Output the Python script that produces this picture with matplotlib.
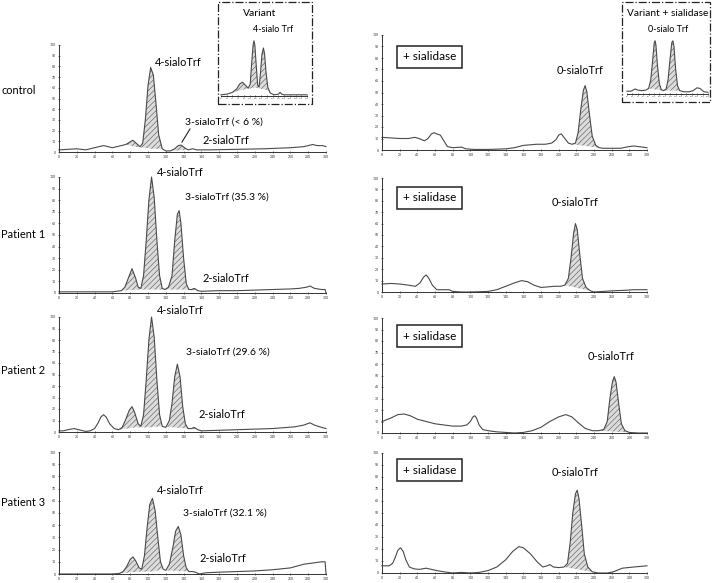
import matplotlib
matplotlib.use("Agg")
import matplotlib.pyplot as plt
from matplotlib.patches import Rectangle
from matplotlib.lines import Line2D

plt.rcParams["font.family"] = ["Lato", "DejaVu Sans"]
plt.rcParams["hatch.linewidth"] = 0.5

W, H = 714, 583

# chromatogram traces: (retention, relative signal)
ctrl_left = [(0, 2), (10, 2.5), (20, 3), (30, 2), (40, 4), (50, 6), (60, 4), (65, 5), (70, 6), (75, 7),
             (79, 9), (83, 11), (87, 8), (91, 5), (94, 8), (97, 30), (100, 62), (103, 79), (106, 72),
             (109, 45), (112, 16), (116, 3), (120, 1), (125, 1), (130, 3), (134, 6), (137, 6.5), (141, 4),
             (145, 2), (150, 3), (155, 2), (170, 2), (200, 2.5), (230, 3), (260, 4), (275, 5), (280, 6),
             (285, 7), (290, 6), (296, 6), (300, 5)]
p1_left = [(0, 1), (20, 1), (40, 1), (60, 1), (70, 2), (74, 5), (78, 13), (82, 21), (86, 13), (89, 5),
           (92, 4), (95, 15), (98, 45), (101, 80), (104, 100), (107, 82), (110, 45), (113, 15), (116, 4),
           (119, 3), (123, 5), (127, 15), (130, 45), (133, 68), (135, 71), (137, 60), (140, 30), (143, 8),
           (146, 3), (149, 3), (152, 4), (156, 2), (160, 1.5), (180, 2), (200, 2), (220, 2.5), (240, 3),
           (260, 3.5), (270, 4), (278, 5), (282, 6), (287, 4), (295, 3), (299, 3), (300, 0)]
p2_left = [(0, 1), (5, 1), (10, 2), (17, 3), (22, 2), (30, 0.5), (35, 1), (40, 3), (44, 8), (47, 13),
           (50, 15), (53, 13), (57, 7), (62, 3), (67, 2), (71, 4), (75, 11), (79, 19), (82, 22), (85, 17),
           (89, 7), (92, 5), (95, 15), (98, 45), (101, 80), (104, 100), (107, 82), (110, 45), (113, 15),
           (116, 5), (120, 4), (124, 10), (127, 25), (130, 48), (133, 59), (136, 48), (139, 22), (142, 7),
           (145, 3), (149, 3), (152, 4), (156, 2), (160, 1), (180, 1.5), (200, 2), (240, 3), (265, 4.5),
           (275, 6), (282, 8), (287, 6), (295, 4), (300, 3)]
p3_left = [(0, 0), (60, 0), (68, 0.5), (72, 2), (76, 6), (80, 12), (83, 14), (86, 11), (90, 5), (93, 4),
           (96, 15), (99, 38), (102, 57), (105, 62), (108, 52), (111, 30), (114, 10), (117, 4), (120, 3),
           (124, 8), (128, 22), (131, 35), (134, 39), (137, 32), (140, 15), (143, 5), (146, 2), (150, 2),
           (153, 1.5), (158, 0), (165, 1), (180, 1.5), (200, 2), (220, 2.5), (240, 3.5), (260, 5),
           (275, 8), (285, 9), (295, 10), (299, 10), (300, 0)]

ctrl_right = [(0, 11), (10, 10.5), (20, 10), (30, 10), (37, 11), (42, 10), (48, 8), (52, 10), (56, 14),
              (59, 15), (62, 14), (66, 13), (70, 8), (74, 3), (80, 2), (90, 2.5), (95, 1), (105, 0.5),
              (120, 0.5), (140, 1), (150, 2), (160, 4), (175, 5), (185, 5), (192, 6), (197, 9), (200, 13),
              (203, 14), (207, 10), (211, 6), (215, 5), (219, 6), (222, 15), (225, 35), (228, 52),
              (230, 56), (232, 50), (235, 30), (238, 12), (242, 4), (246, 2), (250, 1.5), (260, 1.5),
              (270, 1.5), (280, 3), (285, 3.5), (290, 3), (300, 2)]
p1_right = [(0, 7), (10, 7.5), (20, 7), (30, 6), (38, 5), (43, 8), (47, 13), (50, 15), (53, 12), (57, 6),
            (62, 2), (70, 2), (76, 2), (80, 0.5), (90, 0), (100, 0), (120, 0.5), (130, 2), (140, 5),
            (150, 8), (158, 10), (165, 9), (172, 6), (180, 4), (188, 4.5), (195, 5), (202, 5), (207, 6),
            (211, 12), (214, 30), (217, 52), (219, 60), (221, 55), (224, 32), (227, 12), (231, 4),
            (236, 1), (240, 0), (250, 0.5), (260, 1), (275, 1.5), (285, 2), (300, 2)]
p2_right = [(0, 10), (10, 13), (18, 16), (25, 16.5), (32, 15), (40, 12), (50, 10), (60, 8), (70, 7),
            (80, 6), (90, 6), (96, 7), (100, 10), (103, 14), (105, 15), (107, 13), (110, 7), (114, 3),
            (120, 2), (130, 1), (140, 0.5), (150, 0), (160, 0.5), (170, 2), (180, 5), (190, 10), (200, 14),
            (208, 16), (215, 14), (222, 9), (230, 4), (238, 2), (245, 2), (251, 3), (255, 10), (258, 30),
            (261, 45), (263, 49), (265, 44), (268, 25), (271, 8), (275, 2), (280, 0.5), (290, 0), (300, 0)]
p3_right = [(0, 6), (8, 6), (12, 8), (15, 13), (18, 19), (21, 21), (24, 18), (27, 11), (31, 5), (36, 3.5),
            (42, 3), (50, 4), (56, 3), (62, 2), (70, 1), (80, 0), (90, 0.5), (100, 0), (110, 0.5), (120, 2),
            (130, 5), (140, 11), (148, 18), (155, 22), (160, 21), (168, 16), (176, 9), (182, 5), (187, 6),
            (190, 7), (194, 5), (200, 4.5), (206, 5), (210, 8), (213, 25), (216, 50), (219, 66), (221, 69),
            (223, 62), (226, 40), (229, 16), (233, 5), (238, 1), (245, 0), (255, 0), (262, 1), (272, 4),
            (285, 5), (300, 6)]

inset_left = [(0, 2), (20, 3), (40, 6), (55, 12), (65, 20), (75, 23), (85, 18), (95, 13), (102, 20),
              (107, 55), (112, 85), (115, 92), (118, 85), (123, 50), (128, 18), (133, 15), (138, 40),
              (143, 70), (148, 80), (152, 70), (157, 40), (163, 15), (172, 5), (185, 2), (200, 3), (206, 6),
              (212, 3), (220, 2), (260, 2), (300, 2)]
inset_right = [(0, 5), (15, 5), (30, 9), (40, 7), (55, 6), (70, 7), (80, 10), (88, 25), (95, 60), (101, 92),
               (104, 95), (107, 88), (113, 50), (120, 18), (127, 8), (135, 6), (145, 9), (152, 25), (160, 65),
               (166, 92), (170, 95), (174, 85), (180, 45), (187, 15), (195, 6), (210, 4), (230, 4), (245, 6),
               (259, 11), (270, 10), (285, 4), (300, 3)]

# hatched peak areas: (start, end, floor points)
ctrl_left_hatch = [(75, 116, [(75, 7), (85, 5), (95, 4), (105, 3), (116, 3)]),
                   (125, 145, [(125, 1), (145, 2)])]
p1_left_hatch = [(70, 119, [(70, 2), (90, 3), (105, 3), (119, 3)]),
                 (119, 146, [(119, 3), (146, 3)]),
                 (146, 156, [(146, 3), (156, 2)])]
p2_left_hatch = [(67, 116, [(67, 2), (85, 4), (100, 4), (116, 5)]),
                 (116, 145, [(116, 5), (130, 4), (145, 3)]),
                 (145, 156, [(145, 3), (156, 2)])]
p3_left_hatch = [(68, 117, [(68, 0.5), (90, 2), (105, 2), (117, 4)]),
                 (117, 146, [(117, 4), (120, 3), (146, 2)])]
ctrl_right_hatch = [(215, 246, [(215, 5), (246, 2)])]
p1_right_hatch = [(207, 236, [(207, 6), (236, 1)])]
p2_right_hatch = [(245, 280, [(245, 2), (280, 0.5)])]
p3_right_hatch = [(206, 238, [(206, 5), (238, 1)])]
inset_left_hatch = [(40, 185, [(40, 6), (80, 11), (120, 14), (160, 10), (172, 5), (185, 2)])]
inset_right_hatch = [(80, 135, [(80, 10), (135, 6)]), (135, 195, [(135, 6), (195, 6)])]

x_ticks = list(range(0, 301, 20))
y_ticks = list(range(0, 101, 10))

row_names = ["control", "Patient 1", "Patient 2", "Patient 3"]
pct_3sialo = ["(< 6 %)", "(35.3 %)", "(29.6 %)", "(32.1 %)"]

LINE = "#4a4a4a"

fig = plt.figure(figsize=(W / 100, H / 100), dpi=100)


def px_axes(x0, y0, x1, y1):
    return fig.add_axes([x0 / W, 1 - y1 / H, (x1 - x0) / W, (y1 - y0) / H])


def ftext(x, y, s, **kw):
    fig.text(x / W, 1 - y / H, s, **kw)


def draw_trace(ax, trace, hatches, ticks=True):
    xs = [p[0] for p in trace]
    ys = [p[1] for p in trace]
    for a, b, floor in hatches:
        top = [p for p in trace if a <= p[0] <= b]
        poly = top + floor[::-1]
        ax.fill([p[0] for p in poly], [p[1] for p in poly], facecolor="#dcdcdc",
                edgecolor="#6e6e6e", hatch="//////", linewidth=0)
    ax.plot(xs, ys, color=LINE, lw=0.8, clip_on=False)
    ax.set_xlim(0, 300)
    ax.set_ylim(0, 100)
    ax.patch.set_alpha(0)
    for s in ["top", "right"]:
        ax.spines[s].set_visible(False)
    for s in ["left", "bottom"]:
        ax.spines[s].set_color("#333333")
        ax.spines[s].set_linewidth(0.7)
    ax.set_xticks(x_ticks)
    ax.set_xticklabels([str(t) for t in x_ticks])
    if ticks:
        ax.set_yticks(y_ticks)
        ax.set_yticklabels([str(t) for t in y_ticks])
    ax.tick_params(labelsize=2.5, length=2, width=0.5, pad=1, direction="inout", colors="#333333")


left_boxes = [(59, 45, 326, 152), (59, 177, 326, 293), (59, 317, 326, 432), (59, 452, 326, 574)]
right_boxes = [(382, 35, 647, 150), (382, 178, 647, 292), (382, 318, 647, 433), (382, 453, 647, 573)]
left_traces = [(ctrl_left, ctrl_left_hatch), (p1_left, p1_left_hatch),
               (p2_left, p2_left_hatch), (p3_left, p3_left_hatch)]
right_traces = [(ctrl_right, ctrl_right_hatch), (p1_right, p1_right_hatch),
                (p2_right, p2_right_hatch), (p3_right, p3_right_hatch)]

for box, (tr, hz) in zip(left_boxes, left_traces):
    draw_trace(px_axes(*box), tr, hz)
for box, (tr, hz) in zip(right_boxes, right_traces):
    draw_trace(px_axes(*box), tr, hz)

FS = 7.5
# row names
for name, y in zip(row_names, [91, 235, 371, 503]):
    ftext(1, y, name, fontsize=FS + 0.4, va="center", ha="left")

# left annotations
pos4 = [(155, 62), (157, 172), (157, 311), (157, 491)]
pos3 = [(185, 122), (185, 197), (186, 352), (183, 513)]
pos2 = [(202, 140), (202, 278), (198, 414), (199, 558)]
for i in range(4):
    ftext(*pos4[i], "4-sialoTrf", fontsize=FS + 0.4, va="center")
    ftext(*pos3[i], "3-sialoTrf " + pct_3sialo[i], fontsize=FS, va="center")
    ftext(*pos2[i], "2-sialoTrf", fontsize=FS + 0.4, va="center")
fig.add_artist(Line2D([182 / W, 190 / W], [1 - 142 / H, 1 - 129 / H], color="#222222", lw=0.8))

# right annotations
pos0 = [(557, 71), (552, 203), (588, 357), (552, 473)]
box_y = [57, 198, 336, 470]
for (x, y), by in zip(pos0, box_y):
    ftext(x, y, "0-sialoTrf", fontsize=FS + 0.4, va="center")
    fig.add_artist(Rectangle((397 / W, 1 - (by + 11) / H), 65 / W, 22 / H, fill=False,
                             edgecolor="#222222", lw=1.1))
    ftext(429.5, by, "+ sialidase", fontsize=FS + 1, va="center", ha="center")

# insets
fig.add_artist(Rectangle((218 / W, 1 - 104 / H), 94 / W, 102 / H, fill=False,
                         edgecolor="#222222", lw=0.9, linestyle="-."))
fig.add_artist(Rectangle((622 / W, 1 - 102 / H), 88 / W, 100 / H, fill=False,
                         edgecolor="#222222", lw=0.9, linestyle="-."))
ftext(243, 14, "Variant", fontsize=FS, va="center")
ftext(253, 30, "4-sialo Trf", fontsize=FS - 1, va="center")
ftext(627, 13, "Variant + sialidase", fontsize=FS - 0.2, va="center")
ftext(648, 29, "0-sialo Trf", fontsize=FS - 1, va="center")

ax_il = px_axes(221, 36, 307, 96)
draw_trace(ax_il, inset_left, inset_left_hatch, ticks=False)
ax_il.spines["left"].set_visible(False)
ax_il.set_yticks([])
ax_il.tick_params(labelsize=1.5, length=1.5)
ax_ir = px_axes(627, 38, 708, 94)
draw_trace(ax_ir, inset_right, inset_right_hatch, ticks=False)
ax_ir.spines["left"].set_visible(False)
ax_ir.set_yticks([])
ax_ir.tick_params(labelsize=1.5, length=1.5)

fig.savefig("out.png", dpi=100, facecolor="white")
